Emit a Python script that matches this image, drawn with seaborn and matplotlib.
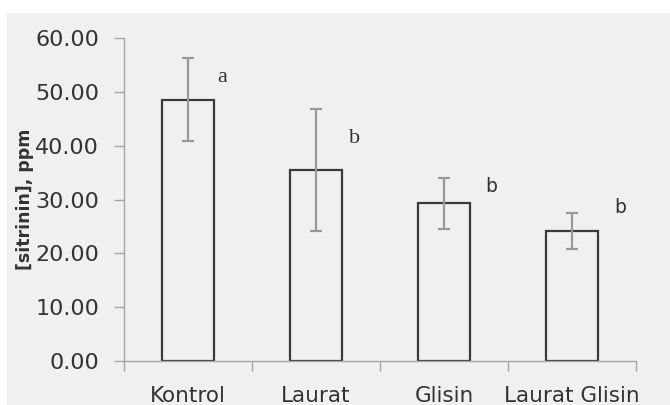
import matplotlib
matplotlib.use("Agg")
import matplotlib.pyplot as plt
from matplotlib.patches import Rectangle
from matplotlib.ticker import FormatStrFormatter, FixedLocator
import seaborn as sns
import pandas as pd

# Mean citrinin concentration per treatment with standard deviation
categories = ["Kontrol", "Laurat", "Glisin", "Laurat Glisin"]
means = [48.6, 35.5, 29.3, 24.2]
errors = [7.7, 11.4, 4.7, 3.4]
letters = ["a", "b", "b", "b"]
letter_y = [52.8, 41.3, 32.5, 28.5]
letter_dx = [0.27, 0.30, 0.37, 0.375]
letter_font = ["Liberation Serif", "Liberation Serif", "DejaVu Sans", "DejaVu Sans"]
letter_size = [16, 16, 13.5, 13.5]

df = pd.DataFrame({"perlakuan": categories, "sitrinin": means})

sns.set_style("white")
plt.rcParams["font.family"] = ["DejaVu Sans"]

W, H = 670, 405
fig = plt.figure(figsize=(W / 100, H / 100), dpi=100, facecolor="white")
bg = "#f0f0f0"
fig.patches.append(Rectangle((7 / W, 0), 1 - 7 / W, 1 - 13 / H,
                             transform=fig.transFigure, facecolor=bg,
                             edgecolor="none", zorder=-10))

ax = fig.add_axes([124 / W, (H - 361) / H, (636 - 124) / W, (361 - 38.3) / H])
ax.set_facecolor("none")

sns.barplot(data=df, x="perlakuan", y="sitrinin", order=categories,
            errorbar=None, width=0.41, ax=ax)
for p in ax.patches:
    p.set_facecolor("none")
    p.set_edgecolor("#3a3a3a")
    p.set_linewidth(1.6)
    p.set_zorder(2)

ax.errorbar(range(len(categories)), means, yerr=errors, fmt="none",
            ecolor="#999999", elinewidth=1.6, capsize=4.5, capthick=1.6, zorder=3)

for i, (lab, ly, dx, fam, fs) in enumerate(zip(letters, letter_y, letter_dx,
                                               letter_font, letter_size)):
    ax.text(i + dx, ly, lab, ha="center", va="center", fontsize=fs,
            family=fam, color="#333333")

ax.set_xlim(-0.5, len(categories) - 0.5)
ax.set_ylim(0, 60)
ax.set_yticks(range(0, 61, 10))
ax.yaxis.set_major_formatter(FormatStrFormatter("%.2f"))
ax.xaxis.set_minor_locator(FixedLocator([k - 0.5 for k in range(len(categories) + 1)]))

ax.tick_params(axis="y", which="major", length=7, width=1, color="#a6a6a6",
               labelsize=16, labelcolor="#333333", pad=11, left=True)
ax.tick_params(axis="x", which="major", length=0, labelsize=15.5,
               labelcolor="#333333", pad=18)
ax.tick_params(axis="x", which="minor", length=7, width=1, color="#a6a6a6",
               bottom=True)

for side in ["top", "right"]:
    ax.spines[side].set_visible(False)
for side in ["left", "bottom"]:
    ax.spines[side].set_color("#a6a6a6")
    ax.spines[side].set_linewidth(1)
    ax.spines[side].set_zorder(4)

ax.set_xlabel("")
ax.set_ylabel("[sitrinin], ppm", fontsize=12.5, fontweight="bold",
              color="#333333", labelpad=2)
ax.yaxis.set_label_coords(-0.175, 0.5)

fig.savefig("out.png", dpi=100, facecolor="white")
